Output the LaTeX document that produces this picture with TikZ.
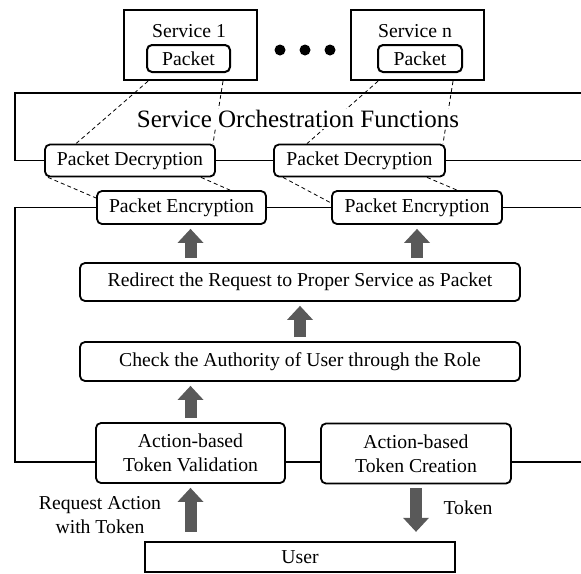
\documentclass[tikz,border=0pt]{standalone}
\usepackage{fontspec}
\setmainfont{Liberation Serif}
\usetikzlibrary{arrows.meta,calc}
\definecolor{flowgray}{HTML}{595959}

\begin{document}
\begin{tikzpicture}[x=1pt,y=-1pt,
  font=\fontsize{19.7}{24}\selectfont,
  svcbox/.style={draw,line width=2.4pt,inner sep=0pt},
  fbox/.style={draw,line width=1.8pt,rounded corners=5pt,fill=white,
    inner sep=0pt,align=center},
  frame/.style={line width=1.7pt},
  link/.style={line width=0.8pt,dash pattern=on 4pt off 3pt},
  flow/.style={color=flowgray,line width=12pt,
    -{Triangle[width=26pt,length=14pt,line width=0pt]},
    shorten <=4pt,shorten >=4pt}]
\useasboundingbox (0,0) rectangle (581,573);

% services
\node[svcbox,minimum width=133pt,minimum height=70pt] (svc1) at (190.5,45) {};
\node (svc1t) at (189,31) {Service 1};
\node[fbox,line width=2pt,minimum width=83pt,minimum height=27pt] (pk1) at (188.5,58.5) {Packet};
\node[svcbox,minimum width=133pt,minimum height=70pt] (svcn) at (417.5,45) {};
\node (svcnt) at (415,31) {Service n};
\node[fbox,line width=2pt,minimum width=84pt,minimum height=27pt] (pkn) at (420,58.5) {Packet};
\foreach \x in {280,305,330}
  \fill (\x,50) circle (5.5pt);

% orchestration
\node[fbox,minimum width=170pt,minimum height=32pt] (dec1) at (130,160.5) {Packet Decryption};
\node[fbox,minimum width=171pt,minimum height=32pt] (dec2) at (359.5,160.5) {Packet Decryption};
\node[fbox,minimum width=169pt,minimum height=33pt] (enc1) at (181.5,207.5) {Packet Encryption};
\node[fbox,minimum width=170pt,minimum height=33pt] (enc2) at (417,207.5) {Packet Encryption};

% gateway
\node[fbox,minimum width=440pt,minimum height=38pt] (redirect) at (300,282) {Redirect the Request to Proper Service as Packet};
\node[fbox,minimum width=440pt,minimum height=39pt] (check) at (300,361.5) {Check the Authority of User through the Role};
\node[fbox,minimum width=189pt,minimum height=60pt] (val) at (190.5,453) {Action-based\\Token Validation};
\node[fbox,minimum width=190pt,minimum height=60pt] (cre) at (416,453.5) {Action-based\\Token Creation};

% user
\node[svcbox,minimum width=310pt,minimum height=30pt] (user) at (300,557) {User};
\node[align=center] (req) at (100,515) {Request Action\\with Token};
\node (tok) at (468,508) {Token};

% frames
\draw[frame] (581,93) -- (15,93) |- (dec1.west);
\draw[frame] (dec1.east) -- (dec2.west);
\draw[frame] (dec2.east) -- (dec2.east -| 581,0);
\draw[frame] (enc1.west) -| (15,462) -- (val.west |- 0,462);
\draw[frame] (enc1.east) -- (enc2.west);
\draw[frame] (enc2.east) -- (enc2.east -| 581,0);
\draw[frame] (val.east |- 0,462) -- (cre.west |- 0,462);
\draw[frame] (cre.east |- 0,462) -- (581,462);

% packet paths
\draw[link] (svc1.south -| 148,0) -- (dec1.north -| 76,0);
\draw[link] (svc1.south -| 223,0) -- (dec1.north -| 213,0);
\draw[link] (dec1.south -| 48,0) -- (enc1.west |- 0,198);
\draw[link] (dec1.south -| 201,0) -- (enc1.north -| 230,0);
\draw[link] (svcn.south -| 378,0) -- (dec2.north -| 307,0);
\draw[link] (svcn.south -| 453,0) -- (dec2.north -| 443,0);
\draw[link] (dec2.south -| 283,0) -- (enc2.west |- 0,203);
\draw[link] (dec2.south -| 427,0) -- (enc2.north -| 457,0);
% title over the packet paths
\node[font=\fontsize{25}{30}\selectfont,fill=white,inner sep=1pt] (sof) at (298,119) {Service Orchestration Functions};

% flow
\draw[flow] (redirect.north -| val.center) -- (enc1.south -| val.center);
\draw[flow] (redirect.north -| enc2.center) -- (enc2.south);
\draw[flow] (check.north) -- (redirect.south);
\draw[flow] (val.north) -- (check.south -| val.center);
\draw[flow,shorten <=9pt] (user.north -| val.center) -- (val.south);
\draw[flow,shorten >=9pt] (cre.south) -- (user.north -| cre.center);
\end{tikzpicture}
\end{document}
